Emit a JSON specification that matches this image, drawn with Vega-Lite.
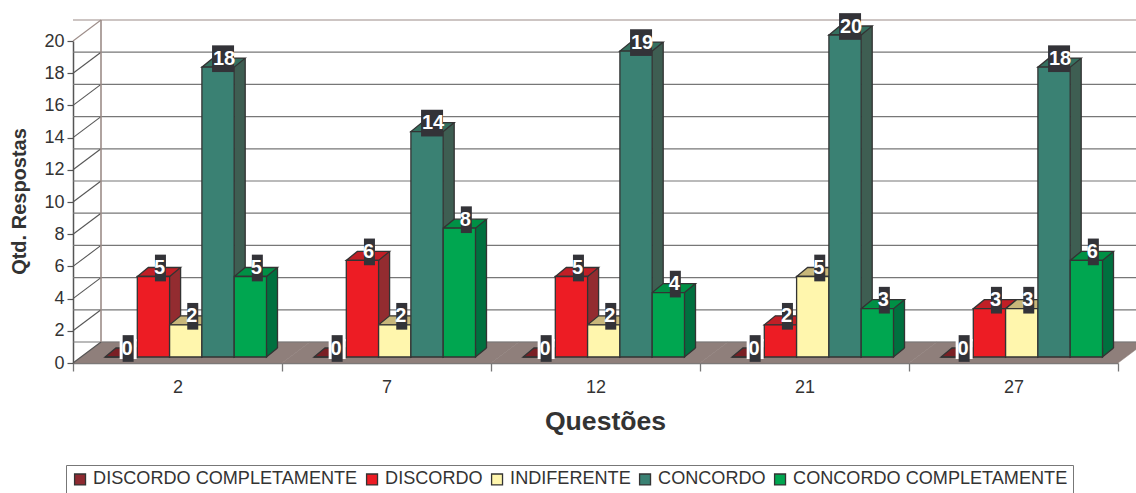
{
  "$schema": "https://vega.github.io/schema/vega-lite/v6.json",
  "width": 1045,
  "height": 322,
  "autosize": {"type": "none"},
  "padding": {"left": 73, "top": 41, "right": 18, "bottom": 130},
  "background": "white",
  "config": {
    "font": "Liberation Sans",
    "view": {"stroke": null},
    "axis": {"grid": false}
  },
  "datasets": {
    "questoes": [{"q": "2"}, {"q": "7"}, {"q": "12"}, {"q": "21"}, {"q": "27"}],
    "escala": [
      {"q": "2", "t": 0}, {"q": "2", "t": 2}, {"q": "2", "t": 4}, {"q": "2", "t": 6},
      {"q": "2", "t": 8}, {"q": "2", "t": 10}, {"q": "2", "t": 12}, {"q": "2", "t": 14},
      {"q": "2", "t": 16}, {"q": "2", "t": 18}, {"q": "2", "t": 20}
    ],
    "respostas": [
      {"q": "2", "s": "DISCORDO COMPLETAMENTE", "v": 0},
      {"q": "2", "s": "DISCORDO", "v": 5},
      {"q": "2", "s": "INDIFERENTE", "v": 2},
      {"q": "2", "s": "CONCORDO", "v": 18},
      {"q": "2", "s": "CONCORDO COMPLETAMENTE", "v": 5},
      {"q": "7", "s": "DISCORDO COMPLETAMENTE", "v": 0},
      {"q": "7", "s": "DISCORDO", "v": 6},
      {"q": "7", "s": "INDIFERENTE", "v": 2},
      {"q": "7", "s": "CONCORDO", "v": 14},
      {"q": "7", "s": "CONCORDO COMPLETAMENTE", "v": 8},
      {"q": "12", "s": "DISCORDO COMPLETAMENTE", "v": 0},
      {"q": "12", "s": "DISCORDO", "v": 5},
      {"q": "12", "s": "INDIFERENTE", "v": 2},
      {"q": "12", "s": "CONCORDO", "v": 19},
      {"q": "12", "s": "CONCORDO COMPLETAMENTE", "v": 4},
      {"q": "21", "s": "DISCORDO COMPLETAMENTE", "v": 0},
      {"q": "21", "s": "DISCORDO", "v": 2},
      {"q": "21", "s": "INDIFERENTE", "v": 5},
      {"q": "21", "s": "CONCORDO", "v": 20},
      {"q": "21", "s": "CONCORDO COMPLETAMENTE", "v": 3},
      {"q": "27", "s": "DISCORDO COMPLETAMENTE", "v": 0},
      {"q": "27", "s": "DISCORDO", "v": 3},
      {"q": "27", "s": "INDIFERENTE", "v": 3},
      {"q": "27", "s": "CONCORDO", "v": 18},
      {"q": "27", "s": "CONCORDO COMPLETAMENTE", "v": 6}
    ]
  },
  "layer": [
    {
      "data": {"name": "questoes"},
      "mark": {"type": "point", "filled": true, "opacity": 1, "size": 10000, "fill": "#8f7f7b", "stroke": "#8f7f7b", "strokeWidth": 0.5,
        "shape": "M-2.09,0 L2.09,0 L2.65,-0.42 L-1.53,-0.42 Z"},
      "encoding": {
        "x": {
          "field": "q", "type": "nominal",
          "scale": {"domain": ["2", "7", "12", "21", "27"], "paddingInner": 0, "paddingOuter": 0},
          "axis": {
            "title": "Questões", "titleFontSize": 26.6, "titleFontWeight": "bold", "titleColor": "#333333",
            "titleX": 532, "titleY": 45,
            "labelAngle": 0, "labelFontSize": 18, "labelColor": "#333333", "labelPadding": 7,
            "tickBand": "extent", "tickSize": 8, "tickColor": "#777777", "tickWidth": 1.3,
            "domainColor": "#777777", "domainWidth": 1.5
          }
        },
        "y": {
          "datum": 0, "type": "quantitative", "scale": {"domain": [0, 20], "nice": false},
          "axis": {
            "title": "Qtd. Respostas", "titleFontSize": 20, "titleFontWeight": "bold", "titleColor": "#333333",
            "titleX": -44, "titleY": 160,
            "values": [0, 2, 4, 6, 8, 10, 12, 14, 16, 18, 20], "tickCount": 11, "labelOverlap": false,
            "labelFontSize": 18, "labelColor": "#333333", "labelPadding": 3,
            "tickSize": 6, "tickColor": "#555555", "tickWidth": 1.2,
            "domainColor": "#555555", "domainWidth": 1.5
          }
        }
      }
    },
    {
      "data": {"name": "escala"},
      "mark": {"type": "rule", "xOffset": 28, "yOffset": -21, "strokeWidth": 1.2},
      "encoding": {
        "y": {"field": "t", "type": "quantitative"},
        "stroke": {"condition": {"test": "datum.t === 20", "value": "#9c8c88"}, "value": "#777777"}
      }
    },
    {
      "data": {"name": "escala"},
      "mark": {"type": "point", "filled": false, "opacity": 1, "size": 10000, "strokeWidth": 1.1,
        "shape": "M-2.09,0 L-1.53,-0.42"},
      "encoding": {
        "x": {"field": "q", "type": "nominal"},
        "y": {"field": "t", "type": "quantitative"},
        "stroke": {"condition": {"test": "datum.t === 20", "value": "#9c8c88"}, "value": "#555555"}
      }
    },
    {
      "data": {"values": [{"q": "2", "de": 0, "ate": 20}]},
      "mark": {"type": "rule", "xOffset": -76.5, "yOffset": -21, "y2Offset": -21, "stroke": "#9c8c88", "strokeWidth": 1.6},
      "encoding": {
        "x": {"field": "q", "type": "nominal"},
        "y": {"field": "de", "type": "quantitative"},
        "y2": {"field": "ate"}
      }
    },
    {
      "data": {"name": "respostas"},
      "encoding": {
        "x": {"field": "q", "type": "nominal"}
      },
      "resolve": {"scale": {"xOffset": "independent"}},
      "layer": [
        {
          "mark": {"type": "bar", "width": 11, "yOffset": -15, "y2Offset": -15, "strokeWidth": 0},
          "encoding": {
            "xOffset": {
              "field": "s", "type": "nominal",
              "scale": {
                "domain": ["DISCORDO COMPLETAMENTE", "DISCORDO", "INDIFERENTE", "CONCORDO", "CONCORDO COMPLETAMENTE"],
                "range": [53.65, 215.15]
              }
            },
            "y": {"field": "v", "type": "quantitative"},
            "y2": {"datum": 0},
            "fill": {
              "field": "s", "type": "nominal", "legend": null,
              "scale": {
                "domain": ["DISCORDO COMPLETAMENTE", "DISCORDO", "INDIFERENTE", "CONCORDO", "CONCORDO COMPLETAMENTE"],
                "range": ["#6e1c22", "#932c30", "#b8a96a", "#3e5e52", "#00703f"]
              }
            }
          }
        },
        {
          "mark": {"type": "rule", "yOffset": -15, "y2Offset": -15, "stroke": "#333333", "strokeWidth": 1.3},
          "encoding": {
            "xOffset": {
              "field": "s", "type": "nominal",
              "scale": {
                "domain": ["DISCORDO COMPLETAMENTE", "DISCORDO", "INDIFERENTE", "CONCORDO", "CONCORDO COMPLETAMENTE"],
                "range": [59.15, 220.65]
              }
            },
            "y": {"field": "v", "type": "quantitative"},
            "y2": {"datum": 0}
          }
        },
        {
          "encoding": {
            "xOffset": {
              "field": "s", "type": "nominal",
              "scale": {
                "domain": ["DISCORDO COMPLETAMENTE", "DISCORDO", "INDIFERENTE", "CONCORDO", "CONCORDO COMPLETAMENTE"],
                "range": [32, 193.5]
              }
            }
          },
          "resolve": {"scale": {"fill": "independent"}},
          "layer": [
            {
              "mark": {"type": "point", "filled": true, "opacity": 1, "size": 10000, "yOffset": -6,
                "stroke": "#333333", "strokeWidth": 1.3,
                "shape": "M0.323,-0.18 L0.323,0 L0.543,-0.18"},
              "encoding": {
                "y": {"datum": 0, "type": "quantitative"},
                "fill": {
                  "field": "s", "type": "nominal", "legend": null,
                  "scale": {
                    "domain": ["DISCORDO COMPLETAMENTE", "DISCORDO", "INDIFERENTE", "CONCORDO", "CONCORDO COMPLETAMENTE"],
                    "range": ["#6e1c22", "#932c30", "#b8a96a", "#3e5e52", "#00703f"]
                  }
                }
              }
            },
            {
              "mark": {"type": "point", "filled": true, "opacity": 1, "size": 10000, "yOffset": -6,
                "stroke": "#333333", "strokeWidth": 1.3,
                "shape": "M-0.323,0 L0.323,0 L0.543,-0.18 L-0.103,-0.18 Z"},
              "encoding": {
                "y": {"field": "v", "type": "quantitative"},
                "fill": {
                  "field": "s", "type": "nominal", "legend": null,
                  "scale": {
                    "domain": ["DISCORDO COMPLETAMENTE", "DISCORDO", "INDIFERENTE", "CONCORDO", "CONCORDO COMPLETAMENTE"],
                    "range": ["#7a1f24", "#c11f26", "#c8b77a", "#35705f", "#009045"]
                  }
                }
              }
            },
            {
              "mark": {"type": "bar", "yOffset": -6, "y2Offset": -6, "stroke": "#333333", "strokeWidth": 1.3},
              "encoding": {
                "y": {"field": "v", "type": "quantitative"},
                "y2": {"datum": 0},
                "fill": {
                  "field": "s", "type": "nominal",
                  "scale": {
                    "domain": ["DISCORDO COMPLETAMENTE", "DISCORDO", "INDIFERENTE", "CONCORDO", "CONCORDO COMPLETAMENTE"],
                    "range": ["#8e2a31", "#ed1c24", "#fff6ad", "#3a8173", "#00a650"]
                  },
                  "legend": {
                    "title": null, "orient": "none", "legendX": -7, "legendY": 424,
                    "direction": "horizontal", "columns": 5, "columnPadding": 5,
                    "symbolType": "square", "symbolSize": 120, "symbolStrokeColor": "#333333", "symbolStrokeWidth": 1.3,
                    "labelFontSize": 18.1, "labelColor": "#333333", "labelOffset": 4, "labelLimit": 400,
                    "strokeColor": "#777777", "fillColor": "white", "padding": 5
                  }
                }
              }
            },
            {
              "transform": [{"filter": "datum.v === 0"}],
              "mark": {"type": "point", "filled": true, "opacity": 1, "size": 10000, "yOffset": -14,
                "fill": "white", "strokeWidth": 0,
                "shape": "M-0.03,-0.2 L0.31,-0.2 L0.31,0.2 L-0.03,0.2 Z"},
              "encoding": {"y": {"field": "v", "type": "quantitative"}}
            },
            {
              "mark": {"type": "point", "filled": true, "opacity": 1, "size": 10000, "yOffset": -14.5,
                "fill": "#333338", "strokeWidth": 0},
              "encoding": {
                "y": {"field": "v", "type": "quantitative"},
                "shape": {
                  "condition": {"test": "datum.v >= 10", "value": "M-0.12,-0.267 L0.32,-0.267 L0.32,0.267 L-0.12,0.267 Z"},
                  "value": "M0.03,-0.267 L0.25,-0.267 L0.25,0.267 L0.03,0.267 Z"
                }
              }
            },
            {
              "mark": {"type": "text", "dx": 6, "dy": -14.5, "font": "Liberation Sans", "fontSize": 20, "fontWeight": "bold", "fill": "white", "align": "center", "baseline": "middle"},
              "encoding": {
                "y": {"field": "v", "type": "quantitative"},
                "text": {"field": "v", "type": "quantitative"}
              }
            }
          ]
        }
      ]
    }
  ]
}
